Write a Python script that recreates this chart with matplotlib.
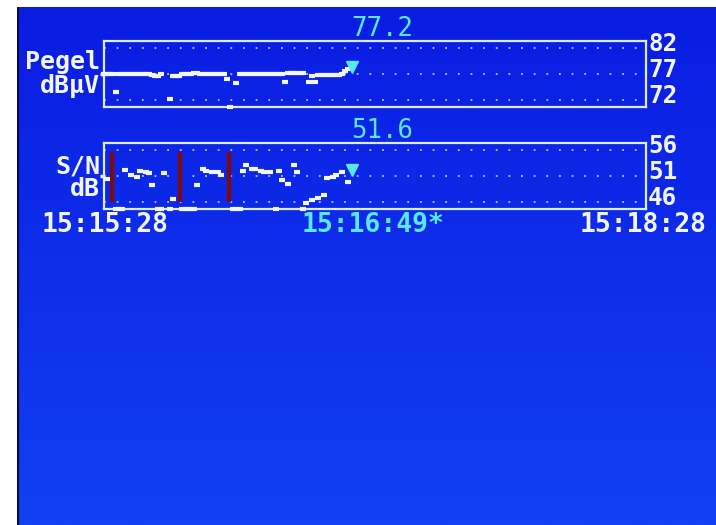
import numpy as np
import matplotlib
matplotlib.use("Agg")
from matplotlib import pyplot as plt
from matplotlib.colors import LinearSegmentedColormap
from matplotlib.transforms import ScaledTranslation

# time window: seconds after 15:15:28, 3 minutes wide
window_s = 180
time_labels = ["15:15:28", "15:16:49*", "15:18:28"]

# level trace (dBuV), one sample per second, nan = no sample
pegel_current = "77.2"
pegel_ticks = [72, 77, 82]
pegel_v = [77.0, 77.0, 77.0, 77.0, 73.5, 77.0, 77.0, 77.0, 77.0, 77.0,
           77.0, 77.0, 77.0, 77.0, 77.0, 77.0, 76.8, 76.7, 76.7, 77.0,
           np.nan, np.nan, 72.2, 76.6, 76.6, 76.7, 77.0, 77.0, 77.0, 77.0,
           77.1, 77.1, 77.0, 77.0, 77.0, 77.0, 77.0, 77.0, 77.0, 77.0,
           77.0, 76.0, 70.5, np.nan, 75.3, 77.0, 77.0, 77.0, 77.0, 77.0,
           77.0, 77.0, 77.0, 77.0, 77.0, 77.0, 77.0, 77.0, 77.0, 77.0,
           75.5, 77.2, 77.2, 77.2, 77.2, 77.2, 77.2, np.nan, 75.5, 76.6,
           75.5, 76.9, 76.9, 76.9, 76.9, 76.9, 76.9, 76.9, 76.9, 77.0,
           77.5, 78.0]
pegel_t = np.arange(len(pegel_v))
pegel_cursor = (82.3, 78.35)

# signal/noise trace (dB)
snr_current = "51.6"
snr_ticks = [46, 51, 56]
snr_t = [1, 7, 9, 11, 12, 14, 15, 16, 20, 23, 31, 33, 34, 36, 38, 39,
         46, 47, 49, 50, 52, 53, 55, 58, 59, 61, 63, 64, 67, 69, 71, 73,
         74, 76, 77, 79, 81,
         4, 5, 6, 18, 19, 22, 26, 27, 28, 29, 30, 43, 44, 45, 57, 66]
snr_v = [50.5, 52.2, 51.1, 50.9, 52.0, 51.7, 51.5, 49.2, 51.5, 46.6,
         49.2, 52.4, 52.0, 51.7, 51.7, 51.1,
         52.0, 53.1, 52.4, 52.4, 52.0, 51.8, 51.7, 52.0, 50.2, 49.4,
         53.1, 51.7, 45.8, 46.4, 46.8, 47.3,
         50.7, 50.9, 51.1, 51.7, 49.8,
         44.0, 44.0, 44.0, 44.0, 44.0, 44.0, 44.0, 44.0, 44.0, 44.0, 44.0,
         44.0, 44.0, 44.0, 44.0, 44.0]
snr_cursor = (82.4, 52.25)
# sync losses
dropout_t = [2.7, 25.1, 41.4]

W, H = 716, 525
BG_TOP = "#0a1ce2"
BG_BOT = "#1240f2"
WHITE = "#f2f6ff"
CYAN = "#58e8f4"
FRAME = "#dcecff"
DOTS = "#b8c4ff"
MONO = "DejaVu Sans Mono"


def px(x):
    return x / W


def py(y):
    return 1 - y / H


fig = plt.figure(figsize=(W / 100, H / 100), dpi=100)
fig.patch.set_facecolor("white")

# screen background
bg = fig.add_axes([px(17), 0, 1 - px(17), py(7)])
grad = np.linspace(0, 1, 256).reshape(-1, 1)
bg.imshow(grad, aspect="auto", extent=[0, 1, 0, 1],
          cmap=LinearSegmentedColormap.from_list("screen", [BG_TOP, BG_BOT]))
bg.set_axis_off()
bg.axvline(0.001, color="#0a0a40", lw=1.5)


def panel(top_px, ylim, ticks):
    ax = fig.add_axes([px(104), py(top_px + 66), px(542), 66 / H])
    ax.patch.set_alpha(0)
    ax.set_xlim(0, window_s)
    ax.set_ylim(*ylim)
    ax.set_xticks([])
    ax.set_yticks([ticks[1]])
    ax.tick_params(axis="y", length=3, width=2.5, color=WHITE,
                   direction="out", labelleft=False)
    for s in ax.spines.values():
        s.set_color(FRAME)
        s.set_linewidth(1.6)
    ax.hlines(ticks, 0, window_s, colors=DOTS, lw=1.3,
              linestyles=[(0, (1, 6))])
    shift = ScaledTranslation(0, 0.04, fig.dpi_scale_trans)
    for v in ticks:
        ax.text(1.004, v, str(v), transform=ax.get_yaxis_transform() + shift,
                ha="left", va="center", color=WHITE, fontsize=17.5,
                family=MONO, fontweight="bold")
    return ax


def trace(ax, t, v, cursor):
    lo, hi = ax.get_ylim()
    vv = np.clip(np.array(v, dtype=float), lo, hi)
    ax.plot(t, vv, ls="none", marker="_", ms=4.5, mew=3.0, color=WHITE,
            clip_on=False, zorder=3)
    ax.plot([cursor[0]], [cursor[1]], ls="none", marker="v", ms=9,
            color=CYAN, zorder=4)


ax1 = panel(41, (70.65, 83.35), pegel_ticks)
trace(ax1, pegel_t, pegel_v, pegel_cursor)

ax2 = panel(143, (44.65, 57.35), snr_ticks)
ax2.vlines(dropout_t, 46.0, 55.7, colors="#7a0a14", lw=3.2, zorder=2)
trace(ax2, snr_t, snr_v, snr_cursor)

# readouts and labels
txt = dict(family=MONO, fontweight="bold")
fig.text(px(382), py(29), pegel_current, ha="center", va="center",
         color=CYAN, fontsize=18.5, family=MONO)
fig.text(px(382), py(131), snr_current, ha="center", va="center",
         color=CYAN, fontsize=18.5, family=MONO)
fig.text(px(100), py(62), "Pegel", ha="right", va="center", color=WHITE,
         fontsize=18, **txt)
fig.text(px(100), py(86), "dBµV", ha="right", va="center", color=WHITE,
         fontsize=18, **txt)
fig.text(px(100), py(167), "S/N", ha="right", va="center", color=WHITE,
         fontsize=18, **txt)
fig.text(px(100), py(189), "dB", ha="right", va="center", color=WHITE,
         fontsize=18, **txt)

fig.text(px(42), py(225), time_labels[0], ha="left", va="center",
         color=WHITE, fontsize=19, **txt)
fig.text(px(373), py(225), time_labels[1], ha="center", va="center",
         color=CYAN, fontsize=19, **txt)
fig.text(px(707), py(225), time_labels[2], ha="right", va="center",
         color=WHITE, fontsize=19, **txt)

fig.savefig("out.png", dpi=100)
